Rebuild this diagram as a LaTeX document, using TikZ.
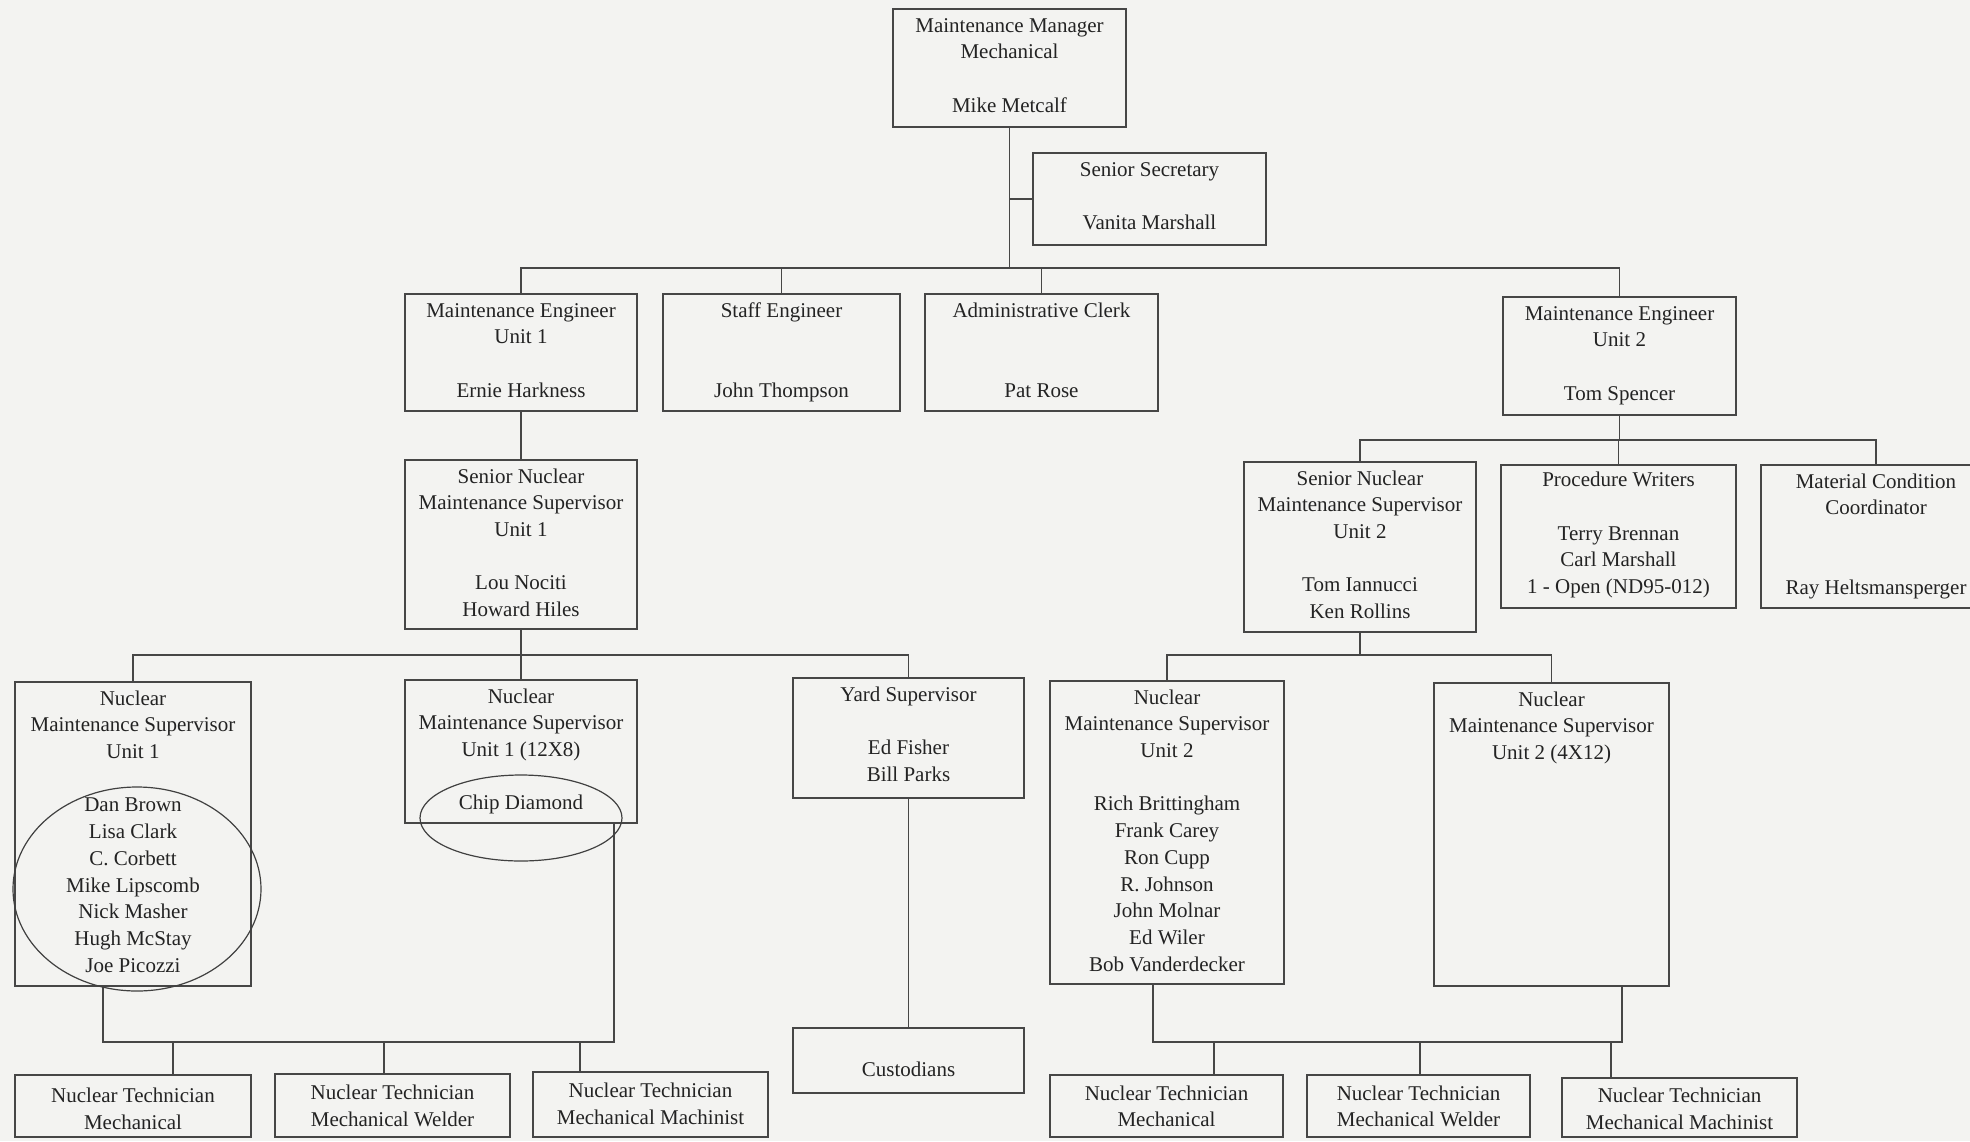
\documentclass[tikz,border=0pt]{standalone}
\usepackage{fontspec}
\setmainfont{Liberation Serif}
\definecolor{bgcol}{RGB}{243,243,241}
\definecolor{linecol}{RGB}{70,70,70}
\definecolor{txtcol}{RGB}{35,35,35}
\newcommand\orgfont{\fontsize{10.5}{13.35}\selectfont\color{txtcol}}
\tikzset{
  orgbox/.style={draw=linecol, line width=0.8pt, inner sep=0pt, outer sep=0pt},
  conn/.style={draw=linecol, line width=0.8pt},
  annot/.style={draw=black!75, line width=0.6pt},
}
% name, left, top, right, bottom, top pad (pt), text
\newcommand\obox[7]{%
  \pgfmathsetlengthmacro\obw{(#4-#2)*0.5pt}%
  \pgfmathsetlengthmacro\obh{(#5-#3)*0.5pt}%
  \node[orgbox] (#1) at ({(#2+#4)/2},{(#3+#5)/2})
    {\parbox[c][\obh][t]{\obw}{\orgfont\centering\vspace*{#6pt}\strut#7}};}
\begin{document}
\begin{tikzpicture}[x=0.5pt,y=-0.5pt]
\useasboundingbox (0,0) rectangle (1970,1141);
\fill[bgcol] (0,0) rectangle (1970,1141);
\clip (0,0) rectangle (1970,1141);

% level 0/1
\obox{mgr}{893}{9}{1126}{127}{2.2}{Maintenance Manager\\Mechanical\\\mbox{}\\Mike Metcalf}
\obox{sec}{1033}{153}{1266}{245}{2.2}{Senior Secretary\\\mbox{}\\Vanita Marshall}
% level 2
\obox{me1}{405}{294}{637}{411}{2.2}{Maintenance Engineer\\Unit 1\\\mbox{}\\Ernie Harkness}
\obox{staff}{663}{294}{900}{411}{2.2}{Staff Engineer\\\mbox{}\\\mbox{}\\John Thompson}
\obox{clerk}{925}{294}{1158}{411}{2.2}{Administrative Clerk\\\mbox{}\\\mbox{}\\Pat Rose}
\obox{me2}{1503}{297}{1736}{415}{2.2}{Maintenance Engineer\\Unit 2\\\mbox{}\\Tom Spencer}
% level 3
\obox{sn1}{405}{460}{637}{629}{2.2}{Senior Nuclear\\Maintenance Supervisor\\Unit 1\\\mbox{}\\Lou Nociti\\Howard Hiles}
\obox{sn2}{1244}{462}{1476}{632}{2.2}{Senior Nuclear\\Maintenance Supervisor\\Unit 2\\\mbox{}\\Tom Iannucci\\Ken Rollins}
\obox{pw}{1501}{465}{1736}{608}{1.6}{Procedure Writers\\\mbox{}\\Terry Brennan\\Carl Marshall\\1 - Open (ND95-012)}
\obox{mcc}{1761}{465}{1991}{608}{2.2}{Material Condition\\Coordinator\\\mbox{}\\\mbox{}\\Ray Heltsmansperger}
% level 4
\obox{nms1}{15}{682}{251}{986}{2.2}{Nuclear\\Maintenance Supervisor\\Unit 1\\\mbox{}\\Dan Brown\\Lisa Clark\\C. Corbett\\Mike Lipscomb\\Nick Masher\\Hugh McStay\\Joe Picozzi}
\obox{nmsb}{405}{680}{637}{823}{2.2}{Nuclear\\Maintenance Supervisor\\Unit 1 (12X8)\\\mbox{}\\Chip Diamond}
\obox{yard}{793}{678}{1024}{798}{2.2}{Yard Supervisor\\\mbox{}\\Ed Fisher\\Bill Parks}
\obox{nms2}{1050}{681}{1284}{984}{2.2}{Nuclear\\Maintenance Supervisor\\Unit 2\\\mbox{}\\Rich Brittingham\\Frank Carey\\Ron Cupp\\R. Johnson\\John Molnar\\Ed Wiler\\Bob Vanderdecker}
\obox{nms2b}{1434}{683}{1669}{986}{2.2}{Nuclear\\Maintenance Supervisor\\Unit 2 (4X12)}
\obox{cust}{793}{1028}{1024}{1093}{15}{Custodians}
% technicians
\obox{t1}{15}{1075}{251}{1137}{4.5}{Nuclear Technician\\Mechanical}
\obox{t2}{275}{1074}{510}{1137}{3.5}{Nuclear Technician\\Mechanical Welder}
\obox{t3}{533}{1072}{768}{1137}{3.5}{Nuclear Technician\\Mechanical Machinist}
\obox{r1}{1050}{1075}{1283}{1137}{3.2}{Nuclear Technician\\Mechanical}
\obox{r2}{1307}{1075}{1530}{1137}{3.2}{Nuclear Technician\\Mechanical Welder}
\obox{r3}{1562}{1078}{1797}{1137}{3.0}{Nuclear Technician\\Mechanical Machinist}

% bus levels and drop points
\coordinate (busA) at (0,268);
\coordinate (busB) at (0,440);
\coordinate (busC) at (0,655);
\coordinate (ltA) at (103,1042);
\coordinate (ltB) at (614,1042);
\coordinate (dl1) at (173,1042);
\coordinate (dl2) at (384,1042);
\coordinate (dl3) at (580,1042);
\coordinate (rtA) at (1153,1042);
\coordinate (rtB) at (1622,1042);
\coordinate (dr1) at (1214,1042);
\coordinate (dr2) at (1420,1042);
\coordinate (dr3) at (1611,1042);

% connectors
\draw[conn] (mgr.south) -- (mgr.south |- busA);
\draw[conn] (sec.west) -- (sec.west -| mgr.south);
\draw[conn] (me1.north) -- (me1.north |- busA) -- (me2.north |- busA) -- (me2.north);
\draw[conn] (staff.north) -- (staff.north |- busA);
\draw[conn] (clerk.north) -- (clerk.north |- busA);
\draw[conn] (me1.south) -- (sn1.north);
\draw[conn] (me2.south) -- (me2.south |- busB);
\draw[conn] (sn2.north) -- (sn2.north |- busB) -- (mcc.north |- busB) -- (mcc.north);
\draw[conn] (pw.north) -- (pw.north |- busB);
\draw[conn] (sn1.south) -- (sn1.south |- busC);
\draw[conn] (nms1.north) -- (nms1.north |- busC) -- (yard.north |- busC) -- (yard.north);
\draw[conn] (nmsb.north) -- (nmsb.north |- busC);
\draw[conn] (sn2.south) -- (sn2.south |- busC);
\draw[conn] (nms2.north) -- (nms2.north |- busC) -- (nms2b.north |- busC) -- (nms2b.north);
\draw[conn] (yard.south) -- (cust.north);
\draw[conn] (ltA |- nms1.south) -- (ltA) -- (ltB) -- (ltB |- nmsb.south);
\draw[conn] (t1.north -| dl1) -- (dl1);
\draw[conn] (t2.north -| dl2) -- (dl2);
\draw[conn] (t3.north -| dl3) -- (dl3);
\draw[conn] (rtA |- nms2.south) -- (rtA) -- (rtB) -- (rtB |- nms2b.south);
\draw[conn] (r1.north -| dr1) -- (dr1);
\draw[conn] (r2.north -| dr2) -- (dr2);
\draw[conn] (r3.north -| dr3) -- (dr3);

% hand-drawn circles
\draw[annot] (137,889) ellipse [x radius=124, y radius=102];
\draw[annot] (521,818) ellipse [x radius=101, y radius=43];
\end{tikzpicture}
\end{document}
